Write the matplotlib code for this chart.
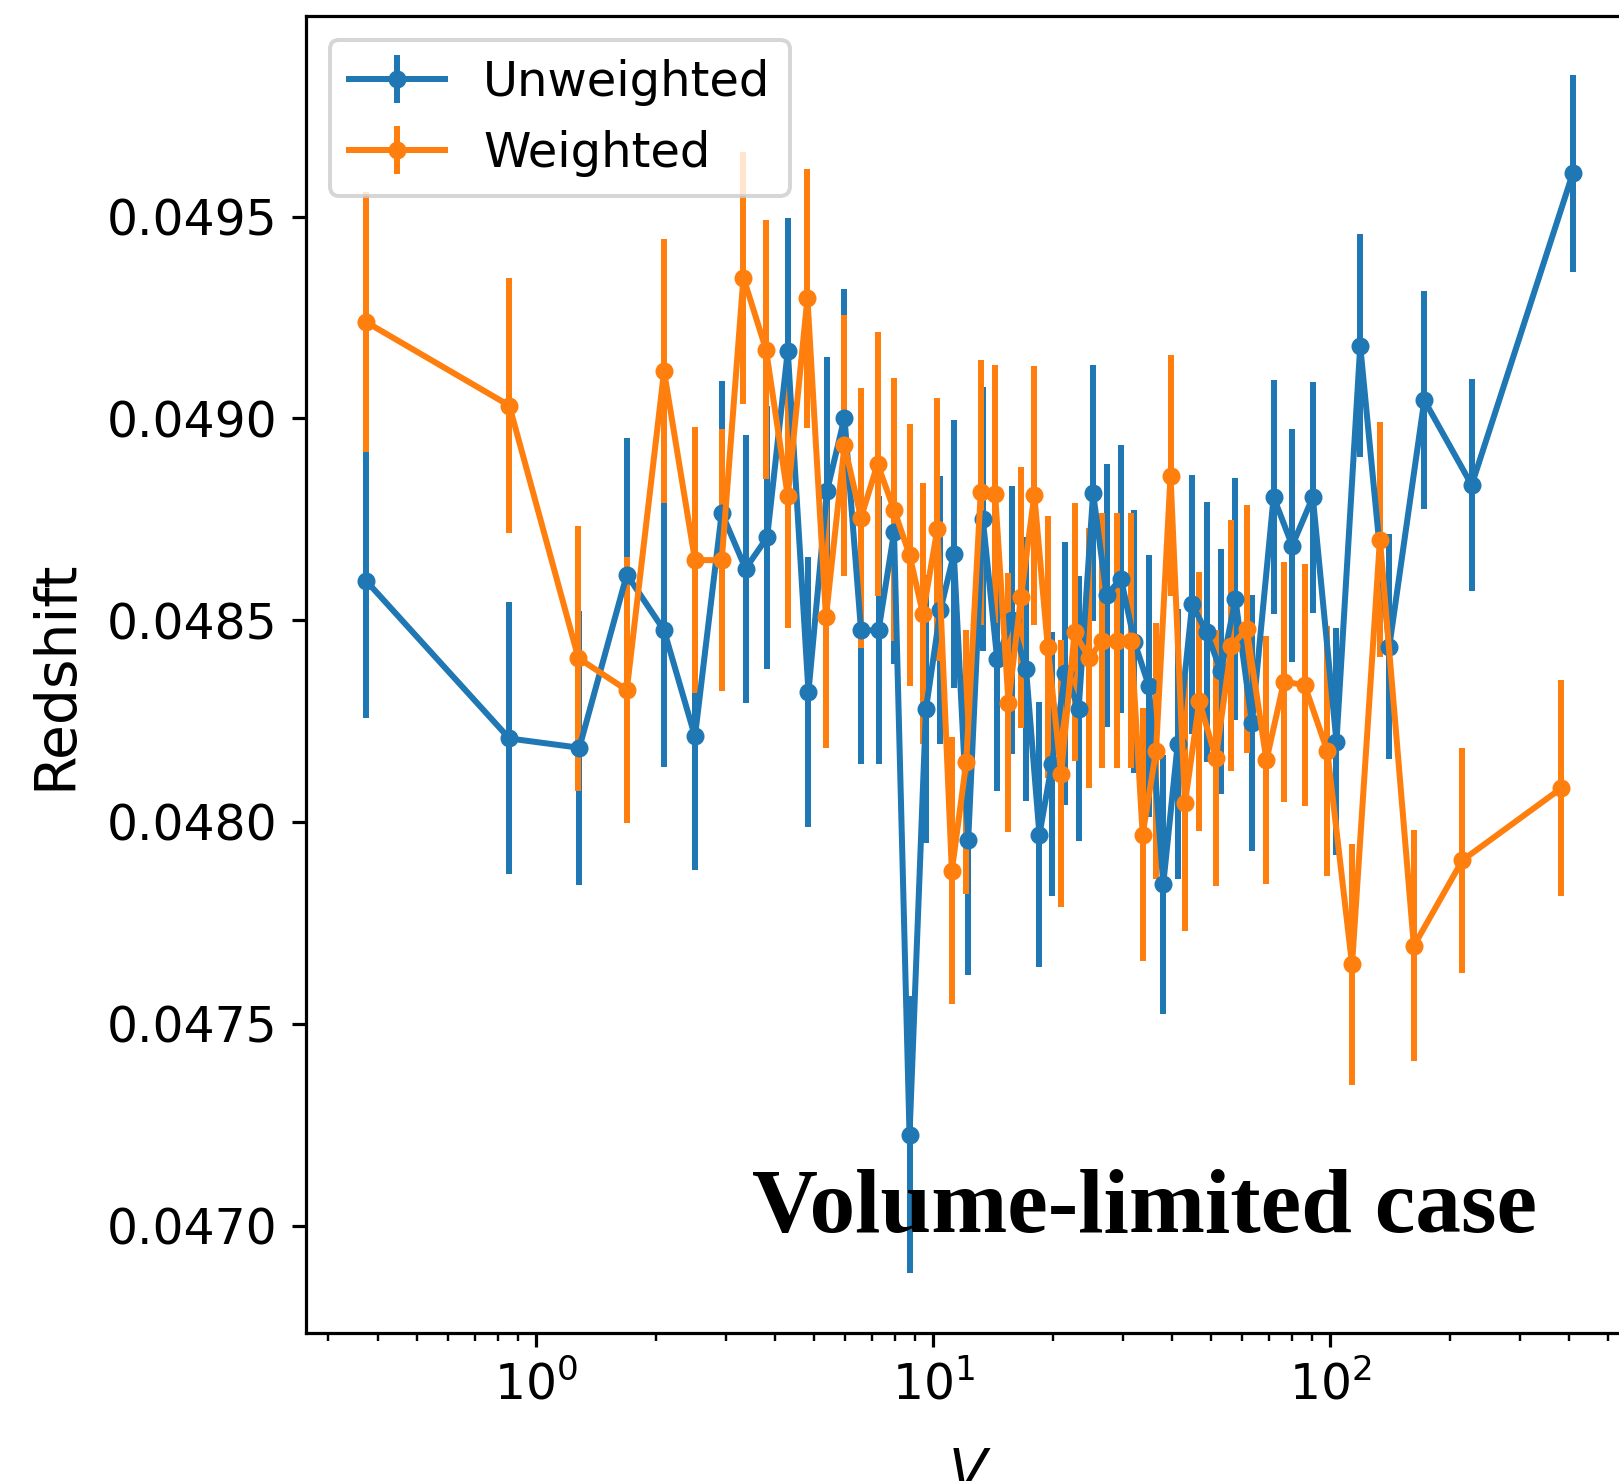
import matplotlib.pyplot as plt

# unweighted bins
v_unw = [0.373, 0.856, 1.285, 1.692, 2.100, 2.512, 2.934, 3.368, 3.817, 4.303,
         4.851, 5.401, 5.978, 6.579, 7.284, 7.967, 8.716, 9.590, 10.43, 11.27,
         12.25, 13.33, 14.49, 15.76, 17.13, 18.51, 19.89, 21.50, 23.24, 25.27,
         27.32, 29.70, 32.10, 34.91, 37.95, 41.27, 44.87, 48.79, 53.05, 57.68,
         63.48, 71.96, 80.16, 90.32, 103.6, 118.9, 140.7, 172.4, 226.9, 407.7]
z_unw = [0.048598, 0.048207, 0.048184, 0.048613, 0.048475, 0.048212, 0.048766, 0.048628, 0.048705, 0.049168,
         0.048322, 0.048820, 0.049002, 0.048475, 0.048475, 0.048718, 0.047225, 0.048281, 0.048526, 0.048664,
         0.047956, 0.048751, 0.048403, 0.048501, 0.048378, 0.047969, 0.048143, 0.048368, 0.048281, 0.048815,
         0.048562, 0.048603, 0.048447, 0.048337, 0.047846, 0.048194, 0.048539, 0.048470, 0.048373, 0.048552,
         0.048245, 0.048805, 0.048685, 0.048805, 0.048199, 0.049180, 0.048434, 0.049045, 0.048835, 0.049607]
err_unw = [3.41, 3.37, 3.39, 3.39, 3.39, 3.30, 3.26, 3.32, 3.27, 3.28,
           3.35, 3.32, 3.20, 3.32, 3.32, 3.26, 3.43, 3.32, 3.32, 3.32,
           3.34, 3.28, 3.27, 3.32, 3.27, 3.28, 3.27, 3.26, 3.28, 3.17,
           3.26, 3.32, 3.26, 3.25, 3.21, 3.35, 3.22, 3.22, 3.03, 3.00,
           3.17, 2.90, 2.89, 2.86, 2.81, 2.76, 2.79, 2.70, 2.62, 2.43]

# weighted bins
v_w = [0.373, 0.856, 1.278, 1.692, 2.100, 2.512, 2.934, 3.327, 3.794, 4.303,
       4.822, 5.369, 5.978, 6.579, 7.240, 7.967, 8.716, 9.419, 10.24, 11.14,
       12.11, 13.17, 14.32, 15.47, 16.63, 17.97, 19.43, 20.99, 22.69, 24.67,
       26.67, 29.00, 31.53, 33.68, 36.39, 39.58, 43.03, 46.78, 51.48, 56.33,
       61.61, 69.02, 76.39, 86.11, 98.22, 113.4, 133.3, 162.3, 215.0, 381.8]
z_w = [0.049239, 0.049032, 0.048406, 0.048327, 0.049117, 0.048649, 0.048649, 0.049349, 0.049170, 0.048807,
       0.049298, 0.048508, 0.048933, 0.048754, 0.048887, 0.048774, 0.048662, 0.048516, 0.048725, 0.047879,
       0.048148, 0.048817, 0.048812, 0.048296, 0.048557, 0.048810, 0.048434, 0.048120, 0.048470, 0.048406,
       0.048449, 0.048449, 0.048449, 0.047969, 0.048176, 0.048858, 0.048046, 0.048299, 0.048158, 0.048437,
       0.048478, 0.048153, 0.048347, 0.048340, 0.048176, 0.047647, 0.048700, 0.047693, 0.047905, 0.048084]
err_w = [3.22, 3.17, 3.28, 3.30, 3.27, 3.30, 3.25, 3.12, 3.21, 3.26,
         3.21, 3.25, 3.23, 3.22, 3.27, 3.26, 3.25, 3.23, 3.25, 3.31,
         3.27, 3.28, 3.20, 3.21, 3.23, 3.21, 3.25, 3.30, 3.20, 3.22,
         3.16, 3.16, 3.16, 3.13, 3.18, 2.98, 3.16, 3.21, 3.17, 3.11,
         3.07, 3.07, 2.97, 3.00, 3.09, 2.98, 2.90, 2.86, 2.79, 2.67]

dpi = 288
fig = plt.figure(figsize=(1619 / dpi, 1481 / dpi), dpi=dpi)
ax = fig.add_axes([0.1888, 0.0999, 0.8199, 0.8896])

ax.errorbar(v_unw, z_unw, yerr=[e * 1e-4 for e in err_unw], fmt="o-", ms=3.5, label="Unweighted")
ax.errorbar(v_w, z_w, yerr=[e * 1e-4 for e in err_w], fmt="o-", ms=3.5, label="Weighted")

ax.set_xscale("log")
ax.ticklabel_format(axis="y", useOffset=False)
ax.tick_params(labelsize=12.2)
ax.set_xlabel("$V$", fontsize=14, labelpad=9)
ax.set_ylabel("Redshift", fontsize=14.2, labelpad=6)
ax.legend(loc="upper left", fontsize=12)

ax.text(0.336, 0.077, "Volume-limited case", transform=ax.transAxes,
        fontsize=22.8, fontweight="bold", family="Liberation Serif",
        ha="left", va="baseline")

fig.savefig("out.png", dpi=dpi)
